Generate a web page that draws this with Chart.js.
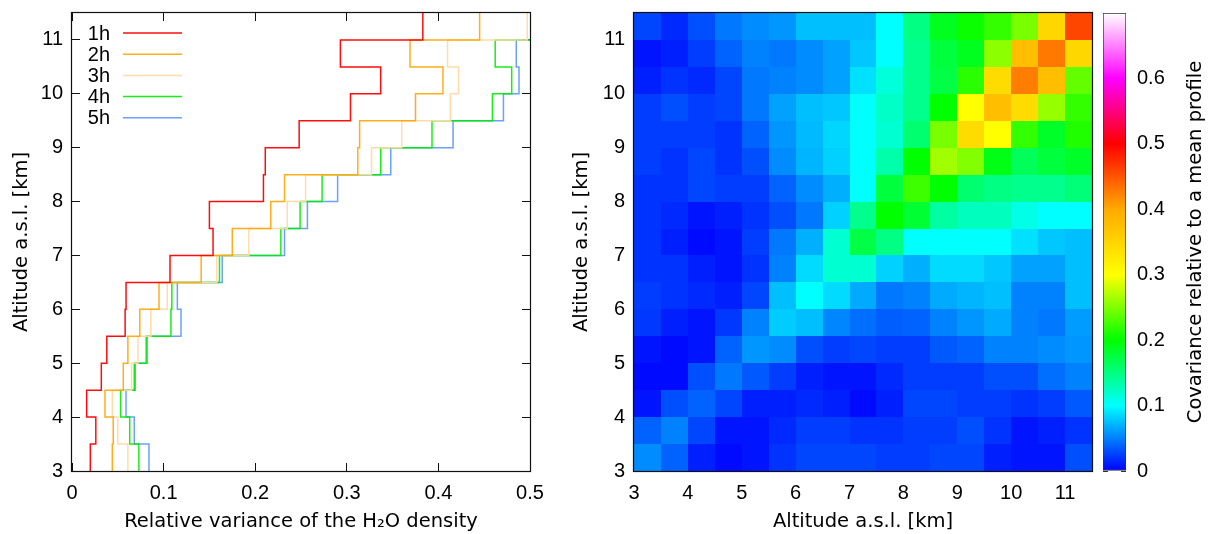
<!DOCTYPE html>
<html><head><meta charset="utf-8">
<script src="https://cdn.jsdelivr.net/npm/chart.js@4"></script>
<style>
html,body{margin:0;padding:0;background:#fff;width:1208px;height:534px;overflow:hidden}
canvas{position:absolute;top:0}
</style></head><body>
<canvas id="prof" width="560" height="534" style="left:0"></canvas>
<canvas id="heat" width="545" height="534" style="left:560px"></canvas>
<canvas id="cbar" width="113" height="534" style="left:1095px"></canvas>
<script>
// ---------- data ----------
// lower edges of the 0.5 km altitude bins
const altitudeBins = [3.0,3.5,4.0,4.5,5.0,5.5,6.0,6.5,7.0,7.5,8.0,8.5,9.0,9.5,10.0,10.5,11.0];
const binWidth = 0.5;
const altitudeTicks = [3,4,5,6,7,8,9,10,11];
const varianceTicks = [0,0.1,0.2,0.3,0.4,0.5];
const covarianceTicks = [0,0.1,0.2,0.3,0.4,0.5,0.6];
const seriesLabels = ['1h','2h','3h','4h','5h'];

// relative variance per altitude bin (3 km -> 11.5 km)
const var1h = [0.020,0.026,0.016,0.032,0.038,0.058,0.059,0.107,0.154,0.150,0.209,0.211,0.248,0.304,0.337,0.293,0.383];
const var2h = [0.044,0.045,0.036,0.056,0.061,0.074,0.095,0.141,0.175,0.217,0.232,0.312,0.314,0.375,0.405,0.369,0.445];
const var3h = [0.061,0.050,0.044,0.065,0.072,0.086,0.104,0.158,0.193,0.235,0.255,0.327,0.360,0.413,0.422,0.410,0.497];
const var4h = [0.073,0.063,0.053,0.068,0.081,0.108,0.109,0.161,0.228,0.249,0.273,0.337,0.393,0.459,0.480,0.462,0.520];
const var5h = [0.084,0.068,0.059,0.069,0.082,0.119,0.115,0.164,0.232,0.257,0.290,0.348,0.416,0.471,0.488,0.485,0.530];

// covariance matrix; rows from the 11-11.5 km bin (top) down to 3-3.5 km (bottom),
// columns from 3-3.5 km (left) to 11-11.5 km (right)
const covariance = [
 [0.027,0.016,0.031,0.047,0.055,0.059,0.075,0.075,0.075,0.100,0.149,0.188,0.204,0.220,0.247,0.347,0.459],
 [0.008,0.012,0.024,0.039,0.051,0.047,0.055,0.063,0.078,0.100,0.145,0.176,0.188,0.255,0.376,0.429,0.347],
 [0.012,0.020,0.016,0.027,0.047,0.051,0.055,0.063,0.088,0.114,0.145,0.173,0.216,0.341,0.426,0.376,0.239],
 [0.024,0.031,0.024,0.027,0.047,0.063,0.075,0.078,0.100,0.122,0.145,0.200,0.300,0.376,0.341,0.259,0.220],
 [0.024,0.024,0.024,0.020,0.039,0.059,0.073,0.084,0.100,0.118,0.157,0.247,0.341,0.300,0.220,0.184,0.212],
 [0.024,0.020,0.027,0.020,0.031,0.055,0.071,0.082,0.100,0.133,0.200,0.263,0.251,0.192,0.165,0.176,0.184],
 [0.020,0.020,0.027,0.024,0.024,0.039,0.055,0.069,0.100,0.176,0.224,0.200,0.157,0.149,0.145,0.145,0.153],
 [0.020,0.016,0.008,0.012,0.020,0.031,0.047,0.082,0.145,0.200,0.180,0.137,0.125,0.125,0.110,0.100,0.100],
 [0.020,0.012,0.004,0.008,0.024,0.047,0.069,0.118,0.173,0.149,0.100,0.100,0.100,0.100,0.088,0.078,0.075],
 [0.020,0.020,0.012,0.008,0.020,0.051,0.086,0.118,0.118,0.082,0.069,0.086,0.086,0.078,0.063,0.063,0.075],
 [0.024,0.020,0.016,0.012,0.027,0.075,0.100,0.086,0.067,0.047,0.051,0.067,0.071,0.075,0.051,0.051,0.075],
 [0.022,0.012,0.008,0.022,0.051,0.080,0.075,0.053,0.043,0.037,0.039,0.051,0.059,0.067,0.051,0.047,0.061],
 [0.008,0.004,0.008,0.039,0.059,0.055,0.031,0.024,0.027,0.024,0.024,0.035,0.039,0.051,0.051,0.055,0.059],
 [0.004,0.004,0.031,0.047,0.035,0.024,0.012,0.008,0.008,0.016,0.024,0.024,0.024,0.031,0.031,0.043,0.051],
 [0.008,0.031,0.039,0.027,0.012,0.012,0.016,0.012,0.004,0.012,0.027,0.027,0.024,0.024,0.020,0.024,0.035],
 [0.039,0.051,0.027,0.008,0.008,0.016,0.024,0.024,0.020,0.020,0.024,0.024,0.031,0.020,0.008,0.012,0.020],
 [0.055,0.039,0.012,0.004,0.008,0.020,0.027,0.027,0.027,0.024,0.024,0.027,0.027,0.012,0.008,0.008,0.031]
];

// ---------- styles ----------
const seriesColors = ['rgba(255,0,0,0.95)','rgba(255,165,0,0.9)','rgba(255,218,165,0.95)','rgba(0,235,0,0.9)','rgba(80,145,255,0.85)'];
const paletteStops = [[0,[0,0,255]],[0.1,[0,255,255]],[0.2,[0,255,0]],[0.3,[255,255,0]],[0.4,[255,170,0]],[0.5,[255,0,0]],[0.6,[255,0,255]],[0.7,[255,255,255]]];
const cbMin = 0, cbMax = 0.7;
const tickFont = {family: 'Liberation Sans', size: 20};
const titleFont = {family: 'DejaVu Sans', size: 19.5};

function palette(v) {
  v = Math.max(cbMin, Math.min(cbMax, v));
  for (let i = 1; i < paletteStops.length; i++) {
    const [v1, c1] = paletteStops[i];
    const [v0, c0] = paletteStops[i-1];
    if (v <= v1) {
      const t = (v - v0) / (v1 - v0);
      const c = c0.map((a, k) => Math.round(a + (c1[k] - a) * t));
      return `rgb(${c[0]},${c[1]},${c[2]})`;
    }
  }
  return 'rgb(255,255,255)';
}

function stepPoints(values) {
  const pts = [];
  values.forEach((v, i) => {
    pts.push({x: v, y: altitudeBins[i]});
    pts.push({x: v, y: altitudeBins[i] + binWidth});
  });
  return pts;
}

const fmt = v => String(Math.round(v * 10) / 10);
const noPad = s => { s.paddingTop = 0; s.paddingBottom = 0; s.paddingLeft = 0; s.paddingRight = 0; };

const framePlugin = {
  id: 'frame',
  afterDraw(chart) {
    const {ctx, chartArea: a} = chart;
    ctx.save();
    ctx.strokeStyle = '#111';
    ctx.lineWidth = 1.2;
    ctx.strokeRect(Math.round(a.left) - 0.5, Math.round(a.top) - 0.5, Math.round(a.right - a.left) + 1, Math.round(a.bottom - a.top) + 1);
    ctx.restore();
  }
};

const legendPlugin = {
  id: 'keyLegend',
  afterDatasetsDraw(chart) {
    const {ctx, chartArea: a} = chart;
    ctx.save();
    ctx.font = `${tickFont.size}px "${tickFont.family}"`;
    ctx.textAlign = 'right';
    ctx.textBaseline = 'middle';
    chart.data.datasets.forEach((ds, i) => {
      const y = a.top + 20 + i * 21.2;
      ctx.fillStyle = '#000';
      ctx.fillText(ds.label, a.left + 38, y + 1);
      ctx.strokeStyle = ds.borderColor;
      ctx.lineWidth = 1.5;
      ctx.beginPath();
      ctx.moveTo(a.left + 51, y);
      ctx.lineTo(a.left + 110, y);
      ctx.stroke();
    });
    ctx.restore();
  }
};

const heatmapPlugin = {
  id: 'heatmap',
  beforeDatasetsDraw(chart) {
    const {ctx, scales: {x, y}} = chart;
    const n = altitudeBins.length;
    ctx.save();
    covariance.forEach((row, r) => {
      const yLo = altitudeBins[n - 1 - r];
      const top = Math.round(y.getPixelForValue(yLo + binWidth));
      const bottom = Math.round(y.getPixelForValue(yLo));
      row.forEach((v, c) => {
        const xLo = altitudeBins[c];
        const left = Math.round(x.getPixelForValue(xLo));
        const right = Math.round(x.getPixelForValue(xLo + binWidth));
        ctx.fillStyle = palette(v);
        ctx.fillRect(left, top, right - left, bottom - top);
      });
    });
    ctx.restore();
  }
};

function altitudeAxis(extra) {
  return Object.assign({
    type: 'linear', min: 3, max: 11.5,
    afterBuildTicks: s => { s.ticks = altitudeTicks.map(v => ({value: v})); },
    ticks: {font: tickFont, color: '#000', padding: 9, autoSkip: false, maxRotation: 0, callback: v => String(v)},
    grid: {drawTicks: false, color: '#111', lineWidth: 1},
    border: {display: false, dash: [8, 442]},
    title: {display: true, text: 'Altitude a.s.l. [km]', font: titleFont, color: '#000', padding: {top: 10, bottom: 0}}
  }, extra);
}

const common = {
  responsive: false, animation: false, devicePixelRatio: 1,
  plugins: {legend: {display: false}, tooltip: {enabled: false}}
};

// ---------- left: variance profiles ----------
const allSeries = [var1h, var2h, var3h, var4h, var5h];
new Chart(document.getElementById('prof'), {
  type: 'scatter',
  data: {
    datasets: allSeries.map((s, i) => ({
      label: seriesLabels[i], data: stepPoints(s), showLine: true,
      borderColor: seriesColors[i], backgroundColor: seriesColors[i],
      borderWidth: 1.5, pointRadius: 0, tension: 0, fill: false
    }))
  },
  options: Object.assign({}, common, {
    layout: {padding: {top: 13, right: 30, left: 0, bottom: 0}},
    scales: {
      x: {
        type: 'linear', min: 0, max: 0.5,
        afterFit: s => { s.height = 63; noPad(s); },
        afterBuildTicks: s => { s.ticks = varianceTicks.map(v => ({value: v})); },
        ticks: {font: tickFont, color: '#000', padding: 10, autoSkip: false, maxRotation: 0, callback: v => fmt(v)},
        grid: {drawTicks: false, color: '#111', lineWidth: 1},
        border: {display: false, dash: [8, 442]},
        title: {display: true, text: 'Relative variance of the H\u2082O density', font: titleFont, color: '#000', padding: {top: 0, bottom: 0}}
      },
      y: altitudeAxis({afterFit: s => { s.width = 72; noPad(s); }})
    }
  }),
  plugins: [legendPlugin, framePlugin]
});

// ---------- right: covariance heatmap ----------
new Chart(document.getElementById('heat'), {
  type: 'scatter',
  data: {datasets: [{data: []}]},
  options: Object.assign({}, common, {
    layout: {padding: {top: 13, right: 13, left: 0, bottom: 0}},
    scales: {
      x: altitudeAxis({
        afterFit: s => { s.height = 63; noPad(s); }, z: 1,
        ticks: {font: tickFont, color: '#000', padding: 10, autoSkip: false, maxRotation: 0, callback: v => String(v)},
        title: {display: true, text: 'Altitude a.s.l. [km]', font: titleFont, color: '#000', padding: {top: 0, bottom: 0}}
      }),
      y: altitudeAxis({afterFit: s => { s.width = 74; noPad(s); }, z: 1})
    }
  }),
  plugins: [heatmapPlugin, framePlugin]
});

// ---------- colour bar ----------
const cbTitlePlugin = {
  id: 'cbTitle',
  afterDraw(chart) {
    const {ctx, chartArea: a} = chart;
    ctx.save();
    ctx.translate(101, (a.top + a.bottom) / 2);
    ctx.rotate(-Math.PI / 2);
    ctx.font = `${titleFont.size}px "${titleFont.family}"`;
    ctx.fillStyle = '#000';
    ctx.textAlign = 'center';
    ctx.textBaseline = 'middle';
    ctx.fillText('Covariance relative to a mean profile', 0, 0);
    ctx.restore();
  }
};

new Chart(document.getElementById('cbar'), {
  type: 'bar',
  data: {
    labels: [''],
    datasets: [{
      data: [[cbMin, cbMax]],
      backgroundColor: (c) => {
        const chart = c.chart;
        const y = chart.scales.y;
        if (!chart.chartArea || !y) return 'blue';
        const g = chart.ctx.createLinearGradient(0, y.getPixelForValue(cbMin), 0, y.getPixelForValue(cbMax));
        paletteStops.forEach(([v]) => g.addColorStop((v - cbMin) / (cbMax - cbMin), palette(v)));
        return g;
      },
      borderColor: '#333', borderWidth: 1, borderSkipped: false,
      barPercentage: 1, categoryPercentage: 1
    }]
  },
  options: Object.assign({}, common, {
    layout: {padding: {top: 13, right: 0, left: 8, bottom: 63}},
    scales: {
      x: {display: false},
      y: {
        position: 'right', min: cbMin, max: cbMax, z: 1,
        afterFit: s => { s.width = 82; noPad(s); },
        afterBuildTicks: s => { s.ticks = covarianceTicks.map(v => ({value: v})); },
        ticks: {font: tickFont, color: '#000', padding: 11, autoSkip: false, callback: v => fmt(v)},
        grid: {drawTicks: false, color: '#333', lineWidth: 1},
        border: {display: false, dash: [5, 13]}
      }
    }
  }),
  plugins: [cbTitlePlugin]
});
</script>
</body></html>
